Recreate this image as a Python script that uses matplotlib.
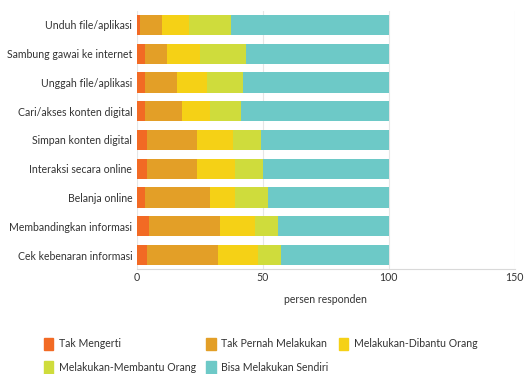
import numpy as np
import matplotlib
matplotlib.use("Agg")
import matplotlib.pyplot as plt
from matplotlib.patches import Patch

plt.rcParams['font.family'] = ['Lato', 'DejaVu Sans']

kategori = ["Unduh file/aplikasi", "Sambung gawai ke internet", "Unggah file/aplikasi",
            "Cari/akses konten digital", "Simpan konten digital", "Interaksi secara online",
            "Belanja online", "Membandingkan informasi", "Cek kebenaran informasi"]

seri = ["Tak Mengerti", "Tak Pernah Melakukan", "Melakukan-Dibantu Orang",
        "Melakukan-Membantu Orang", "Bisa Melakukan Sendiri"]

tak_mengerti = [1.0, 3.3, 3.3, 3.0, 4.0, 4.0, 3.0, 4.9, 4.0]
tak_pernah = [9.0, 8.7, 12.6, 14.9, 19.9, 19.9, 26.0, 28.0, 28.0]
dibantu = [10.8, 13.0, 12.0, 11.2, 14.3, 15.0, 10.0, 13.9, 15.9]
membantu = [16.4, 18.1, 14.3, 12.0, 11.0, 11.2, 13.2, 9.3, 9.2]
sendiri = [62.8, 56.9, 57.8, 58.9, 50.8, 49.9, 47.8, 43.9, 42.9]

warna = ["#F26A24", "#E39F27", "#F5D116", "#CFDC3C", "#6DC9C7"]

nilai = [tak_mengerti, tak_pernah, dibantu, membantu, sendiri]

fig = plt.figure(figsize=(5.28, 3.74), dpi=100)
ax = fig.add_axes([0.2595, 0.2797, 0.7155, 0.692])

y = np.arange(len(kategori))
kiri = np.zeros(len(kategori))
for vals, c in zip(nilai, warna):
    ax.barh(y, vals, left=kiri, height=0.7, color=c, zorder=2)
    kiri += np.array(vals)

ax.set_ylim(len(kategori) - 0.5, -0.5)
ax.set_xlim(0, 150)
ax.set_xticks([0, 50, 100, 150])
ax.set_yticks(y)
ax.set_yticklabels(kategori)
ax.grid(axis='x', color='#e6e6e6', lw=0.8, zorder=0)
for s in ['top', 'right', 'left']:
    ax.spines[s].set_visible(False)
ax.spines['bottom'].set_color('#d9d9d9')
ax.tick_params(axis='both', length=0, labelsize=7.6, colors='#333333')
ax.tick_params(axis='x', pad=2)
ax.set_xlabel("persen responden", fontsize=7.6, color='#333333', labelpad=8)

handles = [Patch(facecolor=c, edgecolor=c) for c in warna]
urutan = [0, 3, 1, 4, 2]
fig.legend([handles[i] for i in urutan], [seri[i] for i in urutan],
           ncol=3, loc='lower left', bbox_to_anchor=(0.065, -0.025),
           frameon=False, fontsize=7.6, handlelength=0.9, handleheight=1.5,
           handletextpad=0.5, columnspacing=1.0, labelspacing=1.0,
           labelcolor='#333333')

fig.savefig("out.png", dpi=100)
